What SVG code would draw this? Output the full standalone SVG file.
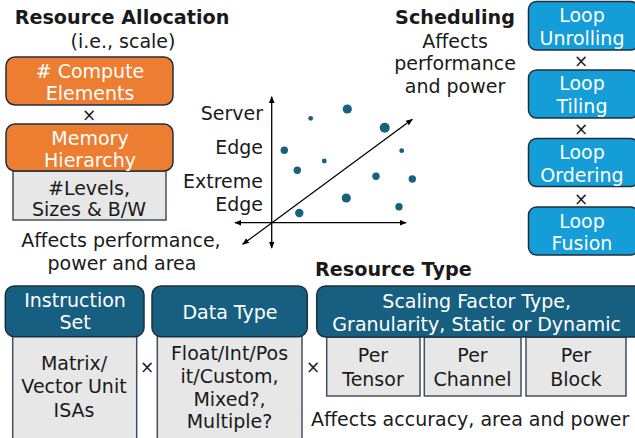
<svg xmlns="http://www.w3.org/2000/svg" width="635" height="438" viewBox="0 0 635 438">
  <style>
    text { font-family: "DejaVu Sans", Verdana, sans-serif; font-size: 19px; fill: #1a1a1a; }
    .b { font-weight: bold; font-size: 19.2px; }
    .w { fill: #ffffff; }
    .c { text-anchor: middle; }
    .r { text-anchor: end; }
    .orange { fill: #ED7D31; stroke: #1f2f3c; stroke-width: 1.5; }
    .teal { fill: #175F80; stroke: #1f2f3c; stroke-width: 1.5; }
    .blue { fill: #149DD7; stroke: #1f2f3c; stroke-width: 1.5; }
    .grey { fill: #E7E7E7; stroke: #3f4f5f; stroke-width: 1.5; }
    .axis { stroke: #000; stroke-width: 1.3; fill: none; }
    .dot { fill: #17607F; }
    .x { font-size: 17px; }
  </style>
  <defs>
    <marker id="arr" viewBox="0 0 10 10" refX="9" refY="5" markerWidth="7" markerHeight="7" orient="auto-start-reverse" markerUnits="userSpaceOnUse">
      <path d="M0,1 L10,5 L0,9 Z" fill="#000"/>
    </marker>
  </defs>

  <!-- Resource allocation column -->
  <g id="resource-allocation">
    <text class="b c" x="122" y="24">Resource Allocation</text>
    <text class="c" x="123" y="48">(i.e., scale)</text>
  </g>
  <g id="compute-elements">
    <rect class="orange" x="6" y="57" width="167" height="48" rx="9"/>
    <text class="w c" x="90" y="78">#  Compute</text>
    <text class="w c" x="90" y="100">Elements</text>
  </g>
  <text class="c x" x="89" y="121">×</text>
  <g id="memory-hierarchy">
    <rect class="grey" x="13" y="171" width="153" height="49"/>
    <text class="c" x="89" y="195">#Levels,</text>
    <text class="c" x="89" y="216">Sizes &amp; B/W</text>
    <rect class="orange" x="6" y="124" width="167" height="47" rx="9"/>
    <text class="w c" x="90" y="145">Memory</text>
    <text class="w c" x="90" y="167">Hierarchy</text>
  </g>
  <text class="c" x="121" y="247">Affects performance,</text>
  <text class="c" x="122" y="270">power and area</text>

  <!-- Scale chart -->
  <g id="chart">
    <text class="r" x="263" y="120">Server</text>
    <text class="r" x="263" y="154">Edge</text>
    <text class="r" x="263" y="188">Extreme</text>
    <text class="r" x="263" y="211">Edge</text>
    <circle class="dot" cx="347.3" cy="109" r="4.6"/>
    <circle class="dot" cx="310.7" cy="118.3" r="2.4"/>
    <circle class="dot" cx="384.7" cy="127.7" r="5"/>
    <circle class="dot" cx="284.3" cy="150.3" r="3.7"/>
    <circle class="dot" cx="401.7" cy="150.7" r="2.4"/>
    <circle class="dot" cx="324.3" cy="161" r="2.4"/>
    <circle class="dot" cx="297.3" cy="170.3" r="3.7"/>
    <circle class="dot" cx="376" cy="176.3" r="3.7"/>
    <circle class="dot" cx="412.3" cy="179" r="3.7"/>
    <circle class="dot" cx="346.3" cy="198" r="4.6"/>
    <circle class="dot" cx="399" cy="206.7" r="3.7"/>
    <circle class="dot" cx="299.3" cy="213" r="4.2"/>
  </g>

  <!-- Scheduling column -->
  <g id="scheduling">
    <text class="b c" x="455" y="24">Scheduling</text>
    <text class="c" x="455" y="48">Affects</text>
    <text class="c" x="455" y="70">performance</text>
    <text class="c" x="455" y="93">and power</text>
  </g>
  <g id="loop-unrolling">
    <rect class="blue" x="528.5" y="1.5" width="110" height="48.5" rx="8"/>
    <text class="w c" x="582" y="22">Loop</text>
    <text class="w c" x="582" y="45">Unrolling</text>
  </g>
  <text class="c x" x="581" y="67">×</text>
  <g id="loop-tiling">
    <rect class="blue" x="528.5" y="70" width="110" height="48" rx="8"/>
    <text class="w c" x="582" y="90">Loop</text>
    <text class="w c" x="582" y="113">Tiling</text>
  </g>
  <text class="c x" x="581" y="135">×</text>
  <g id="loop-ordering">
    <rect class="blue" x="528.5" y="138.5" width="110" height="48" rx="8"/>
    <text class="w c" x="582" y="159">Loop</text>
    <text class="w c" x="582" y="182">Ordering</text>
  </g>
  <text class="c x" x="581" y="205">×</text>
  <g id="loop-fusion">
    <rect class="blue" x="528.5" y="207" width="110" height="48" rx="8"/>
    <text class="w c" x="582" y="228">Loop</text>
    <text class="w c" x="582" y="250">Fusion</text>
  </g>

  <!-- Resource type row -->
  <g id="instruction-set">
    <rect class="grey" x="12.7" y="336" width="124" height="104"/>
    <text class="c" x="74" y="370">Matrix/</text>
    <text class="c" x="74" y="393">Vector Unit</text>
    <text class="c" x="74" y="417">ISAs</text>
    <rect class="teal" x="5.3" y="286" width="138.7" height="50.7" rx="9"/>
    <text class="w c" x="75" y="307">Instruction</text>
    <text class="w c" x="75" y="329">Set</text>
  </g>
  <text class="c x" x="147" y="373">×</text>
  <g id="data-type">
    <rect class="grey" x="157.3" y="336" width="144.7" height="104"/>
    <text class="c" x="229.5" y="360">Float/Int/Pos</text>
    <text class="c" x="229.5" y="383">it/Custom,</text>
    <text class="c" x="229.5" y="406">Mixed?,</text>
    <text class="c" x="229.5" y="428">Multiple?</text>
    <rect class="teal" x="152" y="286" width="155.3" height="50.7" rx="9"/>
    <text class="w c" x="230" y="319">Data Type</text>
  </g>
  <text class="c x" x="313" y="373">×</text>
  <text class="b" x="315" y="276">Resource Type</text>
  <g id="scaling-factor">
    <rect class="grey" x="326.7" y="337" width="93.3" height="59"/>
    <text class="c" x="373" y="362">Per</text>
    <text class="c" x="373" y="386">Tensor</text>
    <rect class="grey" x="424.3" y="337" width="96.7" height="59"/>
    <text class="c" x="472.5" y="362">Per</text>
    <text class="c" x="472.5" y="386">Channel</text>
    <rect class="grey" x="526" y="337" width="100" height="59"/>
    <text class="c" x="576" y="362">Per</text>
    <text class="c" x="576" y="386">Block</text>
    <rect class="teal" x="316.7" y="286" width="330" height="51" rx="9"/>
    <text class="w c" x="476.7" y="308">Scaling Factor Type,</text>
    <text class="w c" x="476.7" y="331">Granularity, Static or Dynamic</text>
  </g>
  <text x="311" y="426">Affects accuracy, area and power</text>

  <!-- Axes -->
  <g id="connectors">
    <line class="axis" x1="271.7" y1="248" x2="271.7" y2="96.7" marker-start="url(#arr)" marker-end="url(#arr)"/>
    <line class="axis" x1="235" y1="222.7" x2="406" y2="222.7" marker-start="url(#arr)" marker-end="url(#arr)"/>
    <line class="axis" x1="242.7" y1="244.3" x2="412.3" y2="119.3" marker-start="url(#arr)" marker-end="url(#arr)"/>
  </g>
</svg>
